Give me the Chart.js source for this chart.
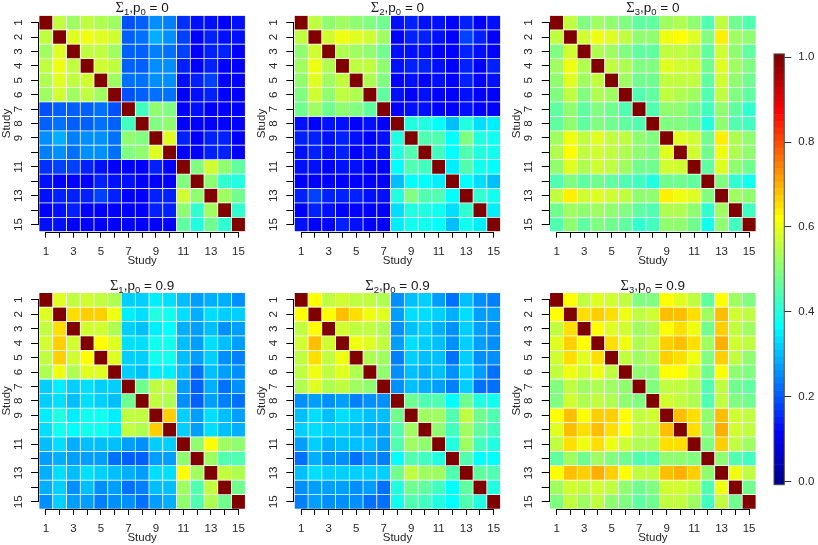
<!DOCTYPE html>
<html>
<head>
<meta charset="utf-8">
<title>Study correlation heatmaps</title>
<script src="https://cdn.jsdelivr.net/npm/chart.js@4"></script>
<style>
  html, body { margin: 0; padding: 0; background: #fff; overflow: hidden; }
  #page { position: relative; width: 818px; height: 545px; overflow: hidden; }
  canvas { position: absolute; }
  .title {
    position: absolute; text-align: center; white-space: nowrap;
    font: 13.5px "Liberation Sans", sans-serif; color: #1a1a1a; line-height: 16px;
  }
  .title sub { font-size: 9.5px; line-height: 0; vertical-align: -2.5px; }
  .title .sigma { font-family: "Liberation Serif", serif; font-size: 14.5px; }
</style>
</head>
<body>
<div id="page"></div>
<script>
// Study labels
const studies = ['1','2','3','4','5','6','7','8','9','10','11','12','13','14','15'];
const xTickLabels = ['1','','3','','5','','7','','9','','11','','13','','15'];
const yTickLabels = ['1','2','3','4','5','6','7','8','9','','11','','13','','15'];
const colorbarTicks = [0, 0.2, 0.4, 0.6, 0.8, 1];

// Colour key, low to high
const palette = [
  '#00008F','#00009F','#0000AF','#0000BF','#0000CF','#0000DF','#0000EF','#0000FF',
  '#0010FF','#0020FF','#0030FF','#0040FF','#0050FF','#0060FF','#0070FF','#0080FF',
  '#008FFF','#009FFF','#00AFFF','#00BFFF','#00CFFF','#00DFFF','#00EFFF','#00FFFF',
  '#10FFEF','#20FFDF','#30FFCF','#40FFBF','#50FFAF','#60FF9F','#70FF8F','#80FF80',
  '#8FFF70','#9FFF60','#AFFF50','#BFFF40','#CFFF30','#DFFF20','#EFFF10','#FFFF00',
  '#FFEF00','#FFDF00','#FFCF00','#FFBF00','#FFAF00','#FF9F00','#FF8F00','#FF8000',
  '#FF7000','#FF6000','#FF5000','#FF4000','#FF3000','#FF2000','#FF1000','#FF0000',
  '#EF0000','#DF0000','#CF0000','#BF0000','#AF0000','#9F0000','#8F0000','#800000'
];

// Upper triangles (the diagonal is 1, matrices are symmetric)
const sigma1p0 = [
  [.565,.535,.56,.545,.53,.21,.22,.27,.25,.17,.14,.14,.12,.14],
  [.59,.61,.59,.575,.22,.24,.29,.27,.18,.13,.15,.14,.14],
  [.56,.555,.53,.22,.22,.25,.23,.18,.13,.16,.15,.13],
  [.575,.565,.22,.22,.26,.27,.16,.13,.15,.13,.13],
  [.535,.23,.23,.26,.27,.14,.16,.18,.13,.13],
  [.21,.22,.24,.24,.13,.14,.15,.13,.13],
  [.44,.51,.505,.12,.14,.13,.12,.13],
  [.505,.51,.125,.12,.13,.13,.13],
  [.60,.15,.12,.15,.15,.13],
  [.13,.12,.15,.16,.12],
  [.50,.575,.51,.475],
  [.52,.42,.40],
  [.535,.485],
  [.42]
];
const sigma2p0 = [
  [.56,.51,.525,.52,.495,.49,.14,.15,.14,.14,.12,.15,.12,.14],
  [.58,.61,.595,.585,.535,.13,.15,.15,.14,.13,.18,.15,.12],
  [.54,.53,.51,.49,.14,.14,.14,.13,.13,.15,.14,.12],
  [.57,.56,.52,.14,.15,.15,.14,.13,.15,.13,.15],
  [.55,.50,.13,.14,.13,.14,.13,.15,.13,.14],
  [.47,.14,.12,.14,.13,.13,.14,.13,.12],
  [.12,.14,.14,.13,.12,.14,.13,.13],
  [.40,.40,.38,.31,.40,.34,.36],
  [.46,.45,.375,.50,.41,.39],
  [.44,.375,.46,.40,.39],
  [.355,.45,.39,.38],
  [.375,.34,.32],
  [.42,.39],
  [.36]
];
const sigma3p0 = [
  [.56,.505,.53,.52,.495,.465,.465,.535,.545,.52,.45,.565,.49,.45],
  [.585,.61,.595,.57,.52,.51,.61,.63,.60,.495,.64,.535,.51],
  [.55,.53,.505,.475,.475,.56,.56,.54,.465,.585,.51,.475],
  [.57,.55,.50,.495,.595,.585,.575,.49,.60,.53,.505],
  [.53,.49,.49,.57,.57,.555,.475,.58,.52,.49],
  [.46,.465,.555,.55,.53,.46,.56,.495,.475],
  [.45,.51,.51,.49,.43,.52,.47,.42],
  [.505,.50,.48,.40,.52,.46,.44],
  [.595,.58,.49,.64,.55,.51],
  [.58,.49,.615,.54,.51],
  [.465,.595,.51,.48],
  [.505,.42,.395],
  [.53,.51],
  [.43]
];
const sigma1p09 = [
  [.60,.555,.585,.57,.55,.33,.325,.36,.35,.32,.28,.30,.29,.265],
  [.655,.67,.67,.61,.365,.35,.41,.395,.34,.30,.35,.325,.33],
  [.585,.58,.55,.33,.32,.36,.37,.30,.275,.32,.27,.285],
  [.63,.59,.345,.345,.395,.39,.32,.28,.34,.31,.275],
  [.59,.33,.33,.385,.39,.32,.275,.325,.27,.255],
  [.325,.31,.365,.365,.305,.24,.305,.285,.27],
  [.48,.57,.565,.275,.22,.30,.24,.26],
  [.555,.55,.26,.22,.285,.25,.235],
  [.665,.325,.285,.34,.31,.285],
  [.335,.275,.34,.31,.295],
  [.515,.63,.53,.51],
  [.525,.46,.45],
  [.57,.545],
  [.485]
];
const sigma2p09 = [
  [.625,.555,.58,.57,.555,.54,.27,.32,.325,.285,.23,.32,.26,.25],
  [.63,.68,.65,.615,.595,.285,.34,.34,.325,.295,.34,.285,.285],
  [.585,.57,.555,.54,.27,.32,.325,.30,.265,.325,.285,.26],
  [.61,.595,.56,.275,.34,.335,.32,.26,.335,.275,.265],
  [.55,.53,.25,.325,.32,.32,.235,.325,.26,.26],
  [.52,.26,.32,.295,.31,.26,.325,.285,.24],
  [.26,.31,.295,.285,.25,.325,.24,.24],
  [.485,.46,.45,.375,.485,.40,.39],
  [.53,.535,.46,.57,.49,.45],
  [.515,.44,.53,.47,.43],
  [.41,.535,.44,.41],
  [.455,.38,.38],
  [.475,.45],
  [.40]
];
const sigma3p09 = [
  [.625,.57,.595,.585,.57,.505,.505,.625,.60,.57,.465,.625,.53,.505],
  [.655,.67,.655,.615,.57,.58,.695,.695,.655,.53,.695,.58,.57],
  [.625,.60,.585,.53,.54,.63,.65,.605,.49,.67,.555,.53],
  [.655,.615,.54,.555,.67,.69,.655,.525,.70,.58,.555],
  [.57,.53,.54,.67,.655,.615,.50,.67,.555,.515],
  [.51,.52,.625,.63,.575,.49,.63,.52,.505],
  [.505,.56,.56,.54,.455,.57,.49,.475],
  [.58,.57,.55,.46,.57,.505,.49],
  [.695,.655,.52,.695,.585,.57],
  [.65,.52,.70,.58,.57],
  [.505,.67,.555,.53],
  [.515,.45,.43],
  [.61,.57],
  [.49]
];

const FONT = 'Liberation Sans';
const INK = '#262626';
const AXIS = '#000';

// Nearest step of the colour key
function colorFor(v) {
  const i = Math.round(v * 64) - 1;
  return palette[Math.max(0, Math.min(63, i))];
}

// Rebuild the full symmetric matrix from its upper triangle
function fullMatrix(upper) {
  return studies.map((_, r) => studies.map((_, c) => {
    if (r === c) return 1;
    const a = Math.min(r, c), b = Math.max(r, c);
    return upper[a][b - a - 1];
  }));
}

// R style axis lines (tick 1 to tick 15) and y labels centred on their ticks
const studyAxes = {
  id: 'studyAxes',
  afterDraw(chart) {
    const { ctx, scales } = chart;
    const x = scales.x, y = scales.y;
    const axisX = Math.round(y.right) - 0.5;
    const axisY = Math.round(x.top) + 0.5;
    ctx.save();
    ctx.strokeStyle = AXIS;
    ctx.lineWidth = 1;
    ctx.beginPath();
    ctx.moveTo(x.getPixelForTick(0), axisY);
    ctx.lineTo(x.getPixelForTick(14), axisY);
    ctx.moveTo(axisX, y.getPixelForValue(1));
    ctx.lineTo(axisX, y.getPixelForValue(15));
    ctx.stroke();
    ctx.fillStyle = INK;
    ctx.font = '11.5px "' + FONT + '"';
    ctx.textAlign = 'center';
    ctx.textBaseline = 'middle';
    yTickLabels.forEach((label, i) => {
      if (!label) return;
      ctx.save();
      ctx.translate(y.right - 20.5, y.getPixelForValue(i + 1));
      ctx.rotate(-Math.PI / 2);
      ctx.fillText(label, 0, 0);
      ctx.restore();
    });
    ctx.restore();
  }
};

const colorbarFrame = {
  id: 'colorbarFrame',
  afterDraw(chart) {
    const { ctx, chartArea: a } = chart;
    ctx.save();
    ctx.strokeStyle = '#4d4d4d';
    ctx.lineWidth = 1;
    ctx.strokeRect(a.left, a.top, a.right - a.left, a.bottom - a.top);
    ctx.restore();
  }
};

const page = document.getElementById('page');

function addCanvas(left, top, width, height) {
  const canvas = document.createElement('canvas');
  canvas.width = width;
  canvas.height = height;
  canvas.style.left = left + 'px';
  canvas.style.top = top + 'px';
  canvas.style.width = width + 'px';
  canvas.style.height = height + 'px';
  page.appendChild(canvas);
  return canvas;
}

function addTitle(html, centerX, top) {
  const div = document.createElement('div');
  div.className = 'title';
  div.innerHTML = html;
  div.style.left = (centerX - 100) + 'px';
  div.style.width = '200px';
  div.style.top = top + 'px';
  page.appendChild(div);
}

function drawPanel(upper, titleHtml, left, top, plotLeft, plotTop) {
  const plotW = 206.3, plotH = 216.3;
  const width = 256;
  const height = Math.round(plotTop + plotH + 36.4);
  const matrix = fullMatrix(upper);

  // one floating bar dataset per row
  const datasets = matrix.map((row, r) => ({
    data: row.map(() => [r + 0.5, r + 1.5]),
    backgroundColor: row.map(colorFor),
    borderColor: 'rgba(255,255,255,0.95)',
    borderWidth: 0.7,
    borderSkipped: false,
    grouped: false,
    barPercentage: 1,
    categoryPercentage: 1
  }));

  new Chart(addCanvas(left, top, width, height), {
    type: 'bar',
    data: { labels: studies, datasets },
    plugins: [studyAxes],
    options: {
      responsive: false,
      animation: false,
      events: [],
      layout: { padding: { left: 0, top: plotTop, right: width - plotLeft - plotW, bottom: 0 } },
      plugins: { legend: { display: false }, tooltip: { enabled: false } },
      scales: {
        x: {
          afterFit: s => { s.height = height - plotTop - plotH; },
          border: { display: false },
          grid: { offset: false, drawOnChartArea: false, tickLength: 6, tickColor: AXIS },
          ticks: {
            autoSkip: false, maxRotation: 0, minRotation: 0, padding: 7,
            color: INK, font: { family: FONT, size: 11.5 },
            callback: (v, i) => xTickLabels[i]
          },
          title: { display: true, text: 'Study', color: INK, padding: 0, font: { family: FONT, size: 11.5 } }
        },
        y: {
          min: 0.5, max: 15.5, reverse: true,
          afterBuildTicks: s => { s.ticks = studies.map((_, i) => ({ value: i + 1 })); },
          afterFit: s => { s.width = plotLeft; },
          border: { display: false },
          grid: { drawOnChartArea: false, tickLength: 8, tickColor: AXIS },
          ticks: { display: false },
          title: { display: true, text: 'Study', color: INK, padding: 0, font: { family: FONT, size: 11.5 } }
        }
      }
    }
  });

  addTitle(titleHtml, left + plotLeft + plotW / 2, top + plotTop - 16);
}

function drawColorbar() {
  const step = 1 / 63;
  const datasets = palette.map((color, i) => ({
    data: [[(i - 0.5) * step, (i + 0.5) * step]],
    backgroundColor: color,
    grouped: false,
    barPercentage: 1,
    categoryPercentage: 1
  }));
  new Chart(addCanvas(760, 40, 58, 460), {
    type: 'bar',
    data: { labels: [''], datasets },
    plugins: [colorbarFrame],
    options: {
      responsive: false,
      animation: false,
      events: [],
      layout: { padding: { left: 14, top: 12, right: 0, bottom: 15.3 } },
      plugins: { legend: { display: false }, tooltip: { enabled: false } },
      scales: {
        x: { display: false },
        y: {
          position: 'right',
          min: -step / 2, max: 1 + step / 2,
          afterBuildTicks: s => { s.ticks = colorbarTicks.map(v => ({ value: v })); },
          afterFit: s => { s.width = 33.7; },
          border: { display: false },
          grid: { drawOnChartArea: false, tickLength: 7, tickColor: '#333' },
          ticks: {
            padding: 7, color: INK, font: { family: FONT, size: 11.5 },
            callback: v => v.toFixed(1)
          }
        }
      }
    }
  });
}

const sig = (n, rest) => '<span class="sigma">\u03A3</span><sub>' + n + '</sub>,p<sub>0</sub> = ' + rest;

drawPanel(sigma1p0, sig(1, '0'), 0, 0, 39, 15.4);
drawPanel(sigma2p0, sig(2, '0'), 255, 0, 39.3, 15.4);
drawPanel(sigma3p0, sig(3, '0'), 510, 0, 39.7, 15.4);
drawPanel(sigma1p09, sig(1, '0.9'), 0, 272, 39, 20.7);
drawPanel(sigma2p09, sig(2, '0.9'), 255, 272, 39.3, 20.7);
drawPanel(sigma3p09, sig(3, '0.9'), 510, 272, 39.7, 20.7);
drawColorbar();
</script>
</body>
</html>
